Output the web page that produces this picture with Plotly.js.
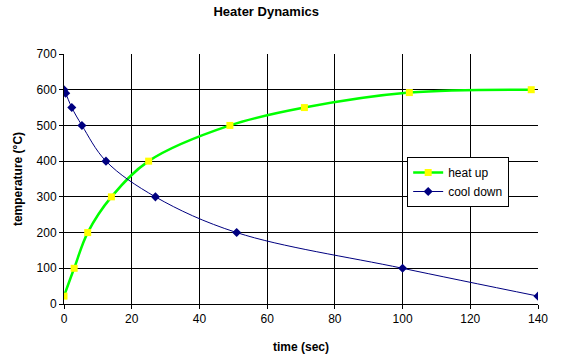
<!DOCTYPE html>
<html>
<head>
<meta charset="utf-8">
<script src="https://cdn.plot.ly/plotly-3.0.1.min.js"></script>
<style>html,body{margin:0;padding:0;background:#fff;}#chart{width:564px;height:357px;}</style>
</head>
<body>
<div id="chart"></div>
<script>
// Data
const heatUpTime = [0, 3, 7, 14, 25, 49, 71, 102, 138];
const heatUpTemp = [22, 100, 200, 300, 400, 500, 550, 592, 600];
const coolDownTime = [0, 0.5, 2.3, 5.3, 12.4, 27, 51, 100, 140];
const coolDownTemp = [600, 590, 550, 500, 400, 300, 200, 100, 22];
const xTicks = [0, 20, 40, 60, 80, 100, 120, 140];
const yTicks = [0, 100, 200, 300, 400, 500, 600, 700];
const xGrid = [20, 40, 60, 80, 100, 120];
const yGrid = [100, 200, 300, 400, 500, 600];

const fontFam = '"Liberation Sans", Arial, sans-serif';

const traces = [
  // empty trace so the grid-only base axes are drawn
  {x: [], y: [], type: 'scatter', mode: 'lines', showlegend: false, hoverinfo: 'skip', xaxis: 'x', yaxis: 'y'},
  {
    x: heatUpTime, y: heatUpTemp, name: 'heat up', type: 'scatter', mode: 'lines+markers',
    xaxis: 'x2', yaxis: 'y2',
    line: {color: '#00FF00', width: 2.5, shape: 'spline'},
    marker: {symbol: 'square', color: '#FFFF00', size: 7}
  },
  {
    x: coolDownTime, y: coolDownTemp, name: 'cool down', type: 'scatter', mode: 'lines+markers',
    xaxis: 'x2', yaxis: 'y2',
    line: {color: '#000080', width: 1, shape: 'spline'},
    marker: {symbol: 'diamond', color: '#000080', size: 7}
  }
];

const layout = {
  width: 564, height: 357,
  margin: {l: 64, r: 26, t: 54, b: 53},
  paper_bgcolor: '#fff', plot_bgcolor: '#fff',
  font: {family: fontFam, size: 12, color: '#000'},
  title: {text: '<b>Heater Dynamics</b>', font: {family: fontFam, size: 13, color: '#000'},
          xref: 'container', x: 0.472, xanchor: 'center', yref: 'container', y: 0.967, yanchor: 'middle'},
  // base axes: interior grid lines only
  xaxis: {
    range: [0, 140], tickvals: xGrid, showticklabels: false, ticks: '',
    showgrid: true, gridcolor: '#000', gridwidth: 1, showline: false, zeroline: false
  },
  yaxis: {
    range: [0, 700], tickvals: yGrid, showticklabels: false, ticks: '',
    showgrid: true, gridcolor: '#000', gridwidth: 1, showline: false, zeroline: false
  },
  // overlay axes: lines, ticks, labels and titles
  xaxis2: {
    overlaying: 'x', anchor: 'y2', side: 'bottom',
    range: [0, 140], tickvals: xTicks, ticktext: xTicks.map(String),
    showgrid: false, showline: true, linecolor: '#000', linewidth: 1,
    ticks: 'outside', ticklen: 4, tickcolor: '#000', zeroline: false,
    tickfont: {size: 12},
    title: {text: '<b>time (sec)</b>', font: {size: 12}, standoff: 17}
  },
  yaxis2: {
    overlaying: 'y', anchor: 'x2', side: 'left',
    range: [0, 700], tickvals: yTicks, ticktext: yTicks.map(String),
    showgrid: false, showline: true, linecolor: '#000', linewidth: 1,
    ticks: 'outside', ticklen: 4, tickcolor: '#000', zeroline: false,
    tickfont: {size: 12},
    title: {text: '<b>temperature (°C)</b>', font: {size: 12}, standoff: 11}
  },
  legend: {
    x: 0.724, y: 0.588, xanchor: 'left', yanchor: 'top',
    bgcolor: '#fff', bordercolor: '#000', borderwidth: 1,
    font: {size: 12}, tracegroupgap: 0, itemwidth: 30
  },
  showlegend: true
};

Plotly.newPlot('chart', traces, layout, {displayModeBar: false, staticPlot: true});
</script>
</body>
</html>
